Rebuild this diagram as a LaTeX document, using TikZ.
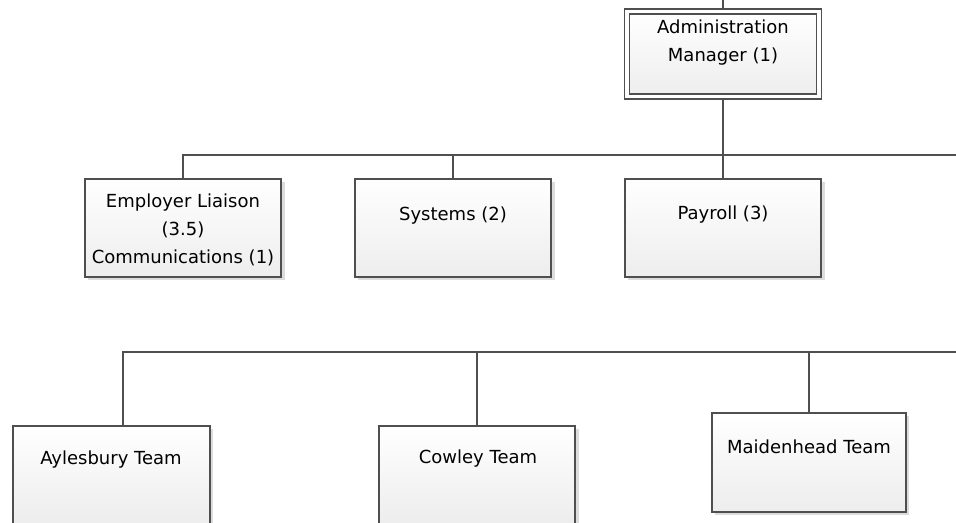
\documentclass[tikz,border=0pt]{standalone}
\usepackage{fontspec}
\setmainfont{DejaVu Sans}
\usetikzlibrary{backgrounds,shadows}
\definecolor{edge}{HTML}{4F4F4F}
\definecolor{boxtop}{HTML}{FFFFFF}
\definecolor{boxbottom}{HTML}{EDEDED}
\definecolor{shade}{HTML}{DCDCDC}
\tikzset{
  unit/.style={
    rectangle,
    draw=edge,
    line width=1.3pt,
    top color=boxtop,
    bottom color=boxbottom,
    drop shadow={shadow xshift=2.6pt, shadow yshift=-2.6pt, fill=shade, opacity=1},
    minimum width=147.5pt,
    minimum height=73.5pt,
    inner sep=0pt
  },
  headunit/.style={
    unit,
    line width=1.1pt,
    double=white,
    double distance=2.6pt,
    minimum width=143.7pt,
    minimum height=63.5pt
  },
  unitlabel/.style={
    font=\fontsize{13.5pt}{21pt}\selectfont,
    text=black,
    align=center,
    inner sep=0pt
  },
  link/.style={draw=edge, line width=1.3pt}
}

\begin{document}
\begin{tikzpicture}[x=0.75pt,y=-0.75pt]
\clip (0,0) rectangle (956,523);

% --- Head of the chart ---
\node[headunit] (admin) at (723,54) {};
\node[unitlabel] (admin-t) at (723,42.5) {Administration\\Manager (1)};

% --- First row ---
\node[unit] (liaison) at (183,228) {};
\node[unit] (systems) at (453,228) {};
\node[unit] (payroll) at (723,228) {};
\node[unitlabel] (liaison-t) at (183,230) {Employer Liaison\\(3.5)\\Communications (1)};
\node[unitlabel] (systems-t) at (453,216) {Systems (2)};
\node[unitlabel] (payroll-t) at (723,215) {Payroll (3)};

% --- Second row ---
\node[unit] (aylesbury) at (111.5,475) {};
\node[unit] (cowley) at (477,475) {};
\node[unit, minimum width=145.5pt, minimum height=74.2pt] (maidenhead) at (809,462.5) {};
\node[unitlabel] (aylesbury-t) at (111,460) {Aylesbury Team};
\node[unitlabel] (cowley-t) at (478,459) {Cowley Team};
\node[unitlabel] (maidenhead-t) at (809,447) {Maidenhead Team};

% Free ends of the connectors.
\coordinate (topin) at (723,0);
\coordinate (bus1) at (956,155);
\coordinate (bus2) at (956,352);
\coordinate (aylesburyin) at (123,426);

% --- Connectors ---
\begin{scope}[on background layer]
\draw[link] (topin) -- (admin.north);
\draw[link] (admin.south) -- (payroll.north);
\draw[link] (bus1) -| (liaison.north);
\draw[link] (systems.north) -- (systems.north |- bus1);
\draw[link] (bus2) -| (aylesburyin);
\draw[link] (cowley.north) -- (cowley.north |- bus2);
\draw[link] (maidenhead.north) -- (maidenhead.north |- bus2);
\end{scope}

\end{tikzpicture}
\end{document}
